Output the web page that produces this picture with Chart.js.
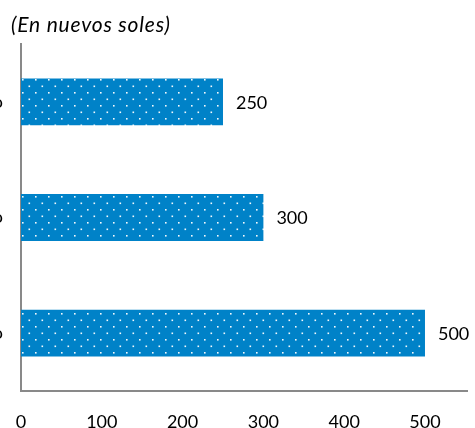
<!DOCTYPE html>
<html>
<head>
<meta charset="utf-8">
<script src="https://cdn.jsdelivr.net/npm/chart.js@4"></script>
<style>
    html, body { margin: 0; padding: 0; background: #fff; overflow: hidden; }
    #wrap { position: relative; width: 475px; height: 428px; overflow: hidden; }
    #title {
        position: absolute; left: 11px; top: 11px;
        font: italic 21px Lato, sans-serif; letter-spacing: 0.8px; color: #000;
    }
    #box { position: absolute; left: -200px; top: 0; width: 675px; height: 428px; }
</style>
</head>
<body>
<div id="wrap">
    <div id="box"><canvas id="chart"></canvas></div>
    <div id="title">(En nuevos soles)</div>
</div>
<script>
const categories = ['Ingreso mínimo', 'Ingreso promedio', 'Ingreso máximo'];
const values = [250, 300, 500];
const tickValues = [0, 100, 200, 300, 400, 500];
const axisMax = 552;

const OFFSET = 200; // part of the canvas hidden to the left

function dotPattern() {
    const c = document.createElement('canvas');
    c.width = 13; c.height = 13;
    const g = c.getContext('2d');
    g.fillStyle = '#0082c8';
    g.fillRect(0, 0, 13, 13);
    g.fillStyle = 'rgba(255,255,255,0.95)';
    g.fillRect(1, 1, 1.6, 1.6);
    g.fillRect(7.5, 7.5, 1.6, 1.6);
    return g.createPattern(c, 'repeat');
}

const valueLabels = {
    id: 'valueLabels',
    afterDatasetsDraw(chart) {
        const ctx = chart.ctx;
        ctx.save();
        ctx.font = '18px Lato, sans-serif';
        ctx.fillStyle = '#000';
        ctx.textAlign = 'left';
        ctx.textBaseline = 'middle';
        chart.getDatasetMeta(0).data.forEach((bar, i) => {
            ctx.fillText(String(values[i]), bar.x + 13, bar.y + 1);
        });
        ctx.restore();
    }
};

new Chart(document.getElementById('chart'), {
    type: 'bar',
    data: {
        labels: categories,
        datasets: [{
            data: values,
            backgroundColor: dotPattern(),
            borderWidth: 0,
            categoryPercentage: 0.5,
            barPercentage: 0.81
        }]
    },
    options: {
        indexAxis: 'y',
        responsive: true,
        maintainAspectRatio: false,
        animation: false,
        layout: { padding: { top: 44, right: 8, left: 0, bottom: 0 } },
        plugins: { legend: { display: false }, tooltip: { enabled: false } },
        scales: {
            x: {
                min: 0,
                max: axisMax,
                afterBuildTicks: s => { s.ticks = tickValues.map(v => ({ value: v })); },
                afterFit: s => { s.height = 37; },
                grid: { display: false, drawTicks: false },
                border: { display: true, color: '#898989', width: 2 },
                ticks: {
                    autoSkip: false, maxRotation: 0, padding: 20,
                    color: '#000', font: { family: 'Lato', size: 18 }
                }
            },
            y: {
                afterFit: s => { s.width = OFFSET + 21; },
                grid: { display: false, drawTicks: false },
                border: { display: true, color: '#898989', width: 2 },
                ticks: { padding: 18, color: '#000', font: { family: 'Lato', size: 18 } }
            }
        }
    },
    plugins: [valueLabels]
});
</script>
</body>
</html>
